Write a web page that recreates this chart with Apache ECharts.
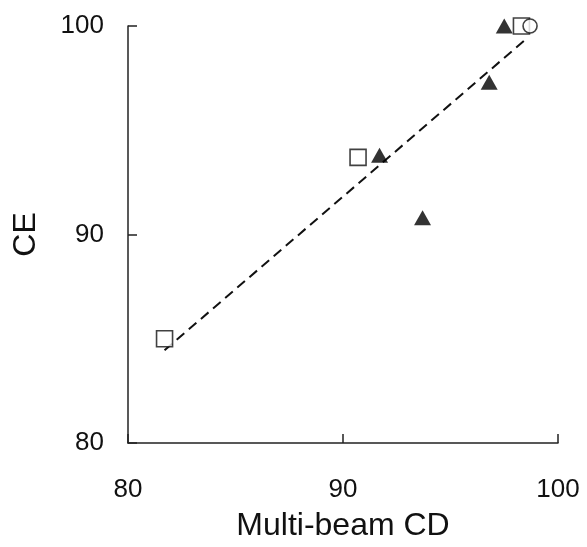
<!DOCTYPE html>
<html>
<head>
<meta charset="utf-8">
<script src="https://cdn.jsdelivr.net/npm/echarts@6/dist/echarts.min.js"></script>
<style>
  html, body { margin: 0; padding: 0; background: #fff; }
  #chart { width: 587px; height: 547px; }
</style>
</head>
<body>
<div id="chart"></div>
<script>
// values
const squarePoints = [[81.7, 85.0], [90.7, 93.7], [98.3, 100.0]]
const trianglePoints = [[91.7, 93.8], [93.7, 90.8], [96.8, 97.3], [97.5, 100.0]]
const circlePoints = [[98.7, 100.0]]
const fitLine = [[81.7, 84.45], [98.6, 99.45]]
const xTicks = [80, 90, 100]
const yTicks = [80, 90, 100]

const FONT = '"Liberation Sans", Arial, sans-serif'
const chart = echarts.init(document.getElementById('chart'))

const axisCommon = {
  type: 'value',
  nameLocation: 'middle',
  nameTextStyle: { color: '#111', fontSize: 32, fontFamily: FONT },
  axisLine: { show: true, lineStyle: { color: '#222', width: 1.5 } },
  axisTick: { show: true, inside: true, length: 9, lineStyle: { color: '#222', width: 1.5 } },
  splitLine: { show: false }
}

chart.setOption({
  animation: false,
  backgroundColor: '#fff',
  grid: { left: 128, right: 29, top: 26, bottom: 103 },
  xAxis: Object.assign({}, axisCommon, {
    name: 'Multi-beam CD', nameGap: 67,
    min: xTicks[0], max: xTicks[xTicks.length - 1], interval: 10,
    axisLabel: { color: '#111', fontSize: 26, fontFamily: FONT, margin: 34 }
  }),
  yAxis: Object.assign({}, axisCommon, {
    name: 'CE', nameGap: 86,
    min: yTicks[0], max: yTicks[yTicks.length - 1], interval: 10,
    axisLabel: { color: '#111', fontSize: 26, fontFamily: FONT, margin: 24 }
  }),
  series: [
    {
      type: 'line', data: fitLine, showSymbol: false, z: 1,
      lineStyle: { color: '#111', width: 2, type: [10, 6] }
    },
    {
      type: 'scatter', data: trianglePoints, symbol: 'triangle', symbolSize: [17, 15], z: 2,
      itemStyle: { color: '#000' }
    },
    {
      type: 'scatter', data: squarePoints, symbol: 'rect', symbolSize: 16, z: 3,
      itemStyle: { color: '#fff', borderColor: '#111', borderWidth: 1.6 }
    },
    {
      type: 'scatter', data: circlePoints, symbol: 'circle', symbolSize: 14, z: 4,
      itemStyle: { color: '#fff', borderColor: '#111', borderWidth: 1.6 }
    }
  ]
})
</script>
</body>
</html>
